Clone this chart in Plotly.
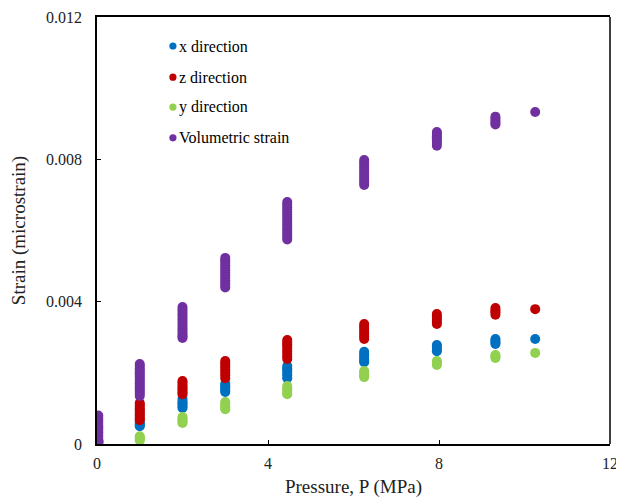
import plotly.graph_objects as go

# Pressure levels (MPa)
pressure_levels = [0.03, 1.0, 2.0, 3.0, 4.45, 6.25, 7.95, 9.32, 10.25]

# Strain readings at each pressure level
x_direction = [
    [0.00008],
    [0.0006, 0.00057, 0.00053, 0.0005],
    [0.00127, 0.0012, 0.00115, 0.0011, 0.00105, 0.00101],
    [0.00169, 0.00164, 0.0016, 0.00155, 0.0015, 0.00146],
    [0.00219, 0.00213, 0.00207, 0.002, 0.00193, 0.00185],
    [0.00259, 0.00253, 0.00247, 0.0024, 0.00235, 0.0023],
    [0.00278, 0.00273, 0.00267, 0.00261],
    [0.00295, 0.0029, 0.00285, 0.00281],
    [0.00295],
]
z_direction = [
    [0.0001, 0.00005],
    [0.00115, 0.0011, 0.00105, 0.001, 0.00095, 0.0009, 0.00085, 0.0008, 0.00075, 0.0007, 0.00067],
    [0.00177, 0.00172, 0.00166, 0.0016, 0.00155, 0.0015, 0.00145, 0.0014],
    [0.00233, 0.00227, 0.0022, 0.00214, 0.00207, 0.002, 0.00193, 0.00185],
    [0.00292, 0.00286, 0.0028, 0.00274, 0.00267, 0.0026, 0.00253, 0.00246, 0.00239],
    [0.00337, 0.0033, 0.00323, 0.00316, 0.00309, 0.00302, 0.00295],
    [0.00365, 0.00358, 0.00351, 0.00344, 0.00337],
    [0.00382, 0.00376, 0.0037, 0.00363],
    [0.00379],
]
y_direction = [
    [0.00005],
    [0.00022, 0.00018, 0.00014, 0.0001],
    [0.00076, 0.00071, 0.00066, 0.00062, 0.00059],
    [0.00118, 0.00113, 0.00108, 0.00103, 0.00098],
    [0.00163, 0.00157, 0.00151, 0.00145, 0.0014],
    [0.00205, 0.002, 0.00195, 0.00191, 0.00188],
    [0.00233, 0.00228, 0.00222],
    [0.0025, 0.00246, 0.00242],
    [0.00256],
]
volumetric = [
    [0.0008, 0.00074, 0.00068, 0.00062, 0.00056, 0.0005, 0.00044, 0.00038, 0.00032,
     0.00026, 0.0002, 0.00014, 0.00008, 0.00002],
    [0.00225, 0.00219, 0.00213, 0.00207, 0.00201, 0.00195, 0.00189, 0.00183, 0.00177,
     0.00171, 0.00165, 0.00159, 0.00153, 0.00147, 0.00141, 0.00135],
    [0.00385, 0.00378, 0.00371, 0.00364, 0.00357, 0.0035, 0.00343, 0.00336, 0.00329,
     0.00322, 0.00315, 0.00308, 0.00303, 0.00298],
    [0.00523, 0.00516, 0.00509, 0.00502, 0.00495, 0.00488, 0.00481, 0.00474, 0.00467,
     0.0046, 0.00453, 0.00447, 0.0044],
    [0.0068, 0.00673, 0.00666, 0.00659, 0.00652, 0.00645, 0.00638, 0.00631, 0.00624,
     0.00617, 0.0061, 0.00603, 0.00596, 0.00589, 0.00582, 0.00575],
    [0.00798, 0.00791, 0.00784, 0.00777, 0.0077, 0.00763, 0.00756, 0.00749, 0.00742,
     0.00735, 0.00728],
    [0.00877, 0.00871, 0.00865, 0.00859, 0.00853, 0.00846, 0.00838],
    [0.0092, 0.00914, 0.00908, 0.00903, 0.00898],
    [0.00933],
]

series_names = ["x direction", "z direction", "y direction", "Volumetric strain"]
series_data = [x_direction, z_direction, y_direction, volumetric]
series_colors = ["#0070C0", "#C00000", "#92D050", "#7030A0"]

x_ticks = [0, 4, 8, 12]
y_ticks = [0, 0.004, 0.008, 0.012]
y_tick_text = ["0", "0.004", "0.008", "0.012"]

FONT = "Liberation Serif"

fig = go.Figure()
for name, data, color in zip(series_names, series_data, series_colors):
    xs, ys = [], []
    for p, vals in zip(pressure_levels, data):
        for v in vals:
            xs.append(p)
            ys.append(v)
    fig.add_trace(go.Scatter(
        x=xs, y=ys, mode="markers", name=name, showlegend=False,
        marker=dict(color=color, size=10, line=dict(width=0)),
    ))

# custom legend (marker dot + text)
legend_y = [0.932, 0.859, 0.789, 0.717]
shapes = []
annotations = []
for name, color, ly in zip(series_names, series_colors, legend_y):
    shapes.append(dict(
        type="circle", xref="paper", yref="paper",
        xsizemode="pixel", ysizemode="pixel",
        xanchor=0.148, yanchor=ly, x0=-3.6, x1=3.6, y0=-3.6, y1=3.6,
        fillcolor=color, line=dict(width=0),
    ))
    annotations.append(dict(
        xref="paper", yref="paper", x=0.1555, y=ly, text=name,
        xanchor="left", yanchor="middle", showarrow=False,
        font=dict(family=FONT, size=16, color="black"),
    ))

# right border (dark grey)
shapes.append(dict(type="line", xref="paper", yref="paper", x0=1, x1=1, y0=0, y1=1,
                   line=dict(color="#404040", width=2)))

# the page body has an 8px margin, so the figure is 8px smaller than the window
fig.update_layout(
    width=616, height=490,
    margin=dict(l=89, r=14, t=9, b=54, autoexpand=False),
    paper_bgcolor="white", plot_bgcolor="white",
    font=dict(family=FONT, size=16, color="black"),
    shapes=shapes, annotations=annotations,
    xaxis=dict(
        range=[0, 12], tickvals=x_ticks, ticks="inside", ticklen=4, tickwidth=1,
        tickcolor="black", showline=True, linecolor="black", linewidth=1.5,
        mirror=True, showgrid=False, zeroline=False, automargin=False,
        ticklabelstandoff=4,
        tickfont=dict(family=FONT, size=16, color="#222"),
        title=dict(text="Pressure, P (MPa)", standoff=12,
                   font=dict(family=FONT, size=19, color="#222")),
    ),
    yaxis=dict(
        range=[0, 0.012], tickvals=y_ticks, ticktext=y_tick_text, ticks="inside",
        ticklen=4, tickwidth=1, tickcolor="black", showline=True,
        linecolor="black", linewidth=1.5, showgrid=False, zeroline=False,
        ticklabelstandoff=10, automargin=False,
        tickfont=dict(family=FONT, size=16, color="#222"),
        title=dict(text="Strain (microstrain)", standoff=15,
                   font=dict(family=FONT, size=19, color="#222")),
    ),
)

fig.write_html("out.html")
